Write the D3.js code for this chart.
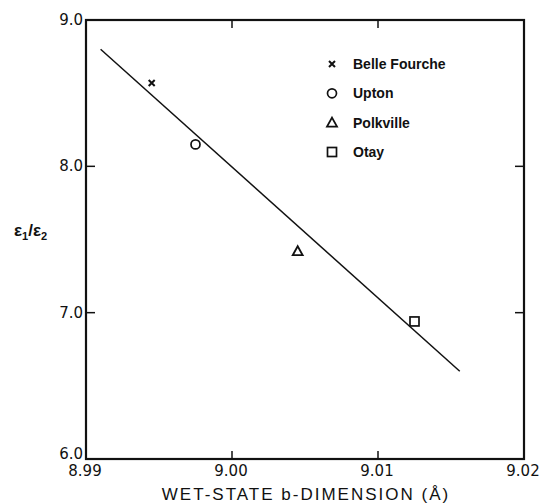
<html lang="en">
<head>
  <meta charset="utf-8"/>
  <script src="https://d3js.org/d3.v7.min.js"></script>
  <style>
  body { margin:0; background:#fff; }
  * { font-family:"Liberation Sans", Arial, sans-serif; }
  .tick-label { font-family:"DejaVu Sans", sans-serif; font-size:15px; fill:#111; }
  .legend-label { font-size:14px; fill:#111; font-weight:bold; }
  </style>
</head>
<body>
  <svg id="chart" width="539" height="503"></svg>
  <script>
    // data
    const sites = ["Belle Fourche", "Upton", "Polkville", "Otay"];
    const symbols = ["x", "circle", "triangle", "square"];
    const bDim = [8.9945, 8.9975, 9.0045, 9.0125];
    const ratio = [8.57, 8.15, 7.42, 6.94];
    const fitX = [8.991, 9.0156];
    const fitY = [8.80, 6.60];
    const xTicks = [8.99, 9.00, 9.01, 9.02];
    const yTicks = [6.0, 7.0, 8.0, 9.0];

    const svg = d3.select("#chart");
    const margin = {top:20, right:15, bottom:44, left:86};
    const w = 539 - margin.left - margin.right;
    const h = 503 - margin.top - margin.bottom;

    const x = d3.scaleLinear().domain([8.99, 9.02]).range([margin.left, margin.left + w]);
    const y = d3.scaleLinear().domain([6.0, 9.0]).range([margin.top + h, margin.top]);

    // frame
    svg.append("rect")
      .attr("x", x(8.99)).attr("y", y(9.0))
      .attr("width", x(9.02) - x(8.99)).attr("height", y(6.0) - y(9.0))
      .attr("fill", "none").attr("stroke", "#111").attr("stroke-width", 2.2);

    // inward ticks on all four sides
    const inner = [9.00, 9.01];
    svg.selectAll("line.xb").data(inner).join("line")
      .attr("x1", d => x(d)).attr("x2", d => x(d))
      .attr("y1", y(6.0)).attr("y2", y(6.0) - 8)
      .attr("stroke", "#111").attr("stroke-width", 1.5);
    svg.selectAll("line.xt").data(inner).join("line")
      .attr("x1", d => x(d)).attr("x2", d => x(d))
      .attr("y1", y(9.0)).attr("y2", y(9.0) + 8)
      .attr("stroke", "#111").attr("stroke-width", 1.5);
    const innerY = [7.0, 8.0];
    svg.selectAll("line.yl").data(innerY).join("line")
      .attr("x1", x(8.99)).attr("x2", x(8.99) + 9)
      .attr("y1", d => y(d)).attr("y2", d => y(d))
      .attr("stroke", "#111").attr("stroke-width", 1.5);
    svg.selectAll("line.yr").data(innerY).join("line")
      .attr("x1", x(9.02)).attr("x2", x(9.02) - 9)
      .attr("y1", d => y(d)).attr("y2", d => y(d))
      .attr("stroke", "#111").attr("stroke-width", 1.5);

    // tick labels
    svg.selectAll("text.xl").data(xTicks).join("text")
      .attr("class", "tick-label")
      .attr("x", d => x(d) - 1).attr("y", y(6.0) + 17)
      .attr("text-anchor", "middle")
      .text(d => d.toFixed(2));
    svg.selectAll("text.yl").data(yTicks).join("text")
      .attr("class", "tick-label")
      .attr("x", x(8.99) - 3).attr("y", d => y(d) + (d === 6.0 ? 0 : 5))
      .attr("text-anchor", "end")
      .text(d => d.toFixed(1));

    // axis titles
    svg.append("text")
      .attr("x", 306).attr("y", 500)
      .attr("text-anchor", "middle")
      .attr("font-size", 17).attr("letter-spacing", 2).attr("fill", "#111")
      .text("WET-STATE b-DIMENSION (Å)");

    const yl = svg.append("text")
      .attr("x", 14).attr("y", 236)
      .attr("font-size", 17).attr("font-weight", "bold").attr("fill", "#111");
    yl.append("tspan").text("ε");
    yl.append("tspan").attr("font-size", 11).attr("dy", 4).text("1");
    yl.append("tspan").attr("dy", -4).text("/ε");
    yl.append("tspan").attr("font-size", 11).attr("dy", 4).text("2");

    // regression line
    svg.append("line")
      .attr("x1", x(fitX[0])).attr("y1", y(fitY[0]))
      .attr("x2", x(fitX[1])).attr("y2", y(fitY[1]))
      .attr("stroke", "#111").attr("stroke-width", 1.5);

    function drawSymbol(g, kind, cx, cy) {
      if (kind === "x") {
        g.append("path")
          .attr("d", `M${cx-3},${cy-3}L${cx+3},${cy+3}M${cx+3},${cy-3}L${cx-3},${cy+3}`)
          .attr("stroke", "#111").attr("stroke-width", 2).attr("fill", "none");
      } else if (kind === "circle") {
        g.append("circle").attr("cx", cx).attr("cy", cy).attr("r", 4.5)
          .attr("stroke", "#111").attr("stroke-width", 1.7).attr("fill", "none");
      } else if (kind === "triangle") {
        g.append("path")
          .attr("d", `M${cx},${cy-5}L${cx+5},${cy+4}L${cx-5},${cy+4}Z`)
          .attr("stroke", "#111").attr("stroke-width", 1.8).attr("fill", "none");
      } else {
        g.append("rect").attr("x", cx-4.5).attr("y", cy-4.5).attr("width", 9).attr("height", 9)
          .attr("stroke", "#111").attr("stroke-width", 1.7).attr("fill", "none");
      }
    }

    const pts = svg.append("g");
    bDim.forEach((d, i) => drawSymbol(pts, symbols[i], x(d), y(ratio[i])));

    // legend
    const legend = svg.append("g");
    const legendY = d3.scaleLinear().domain([0, 3]).range([64, 152]);
    sites.forEach((s, i) => {
      drawSymbol(legend, symbols[i], 332, legendY(i));
      legend.append("text").attr("class", "legend-label")
        .attr("x", 353).attr("y", legendY(i) + 5).text(s);
    });
  </script>
</body>
</html>
